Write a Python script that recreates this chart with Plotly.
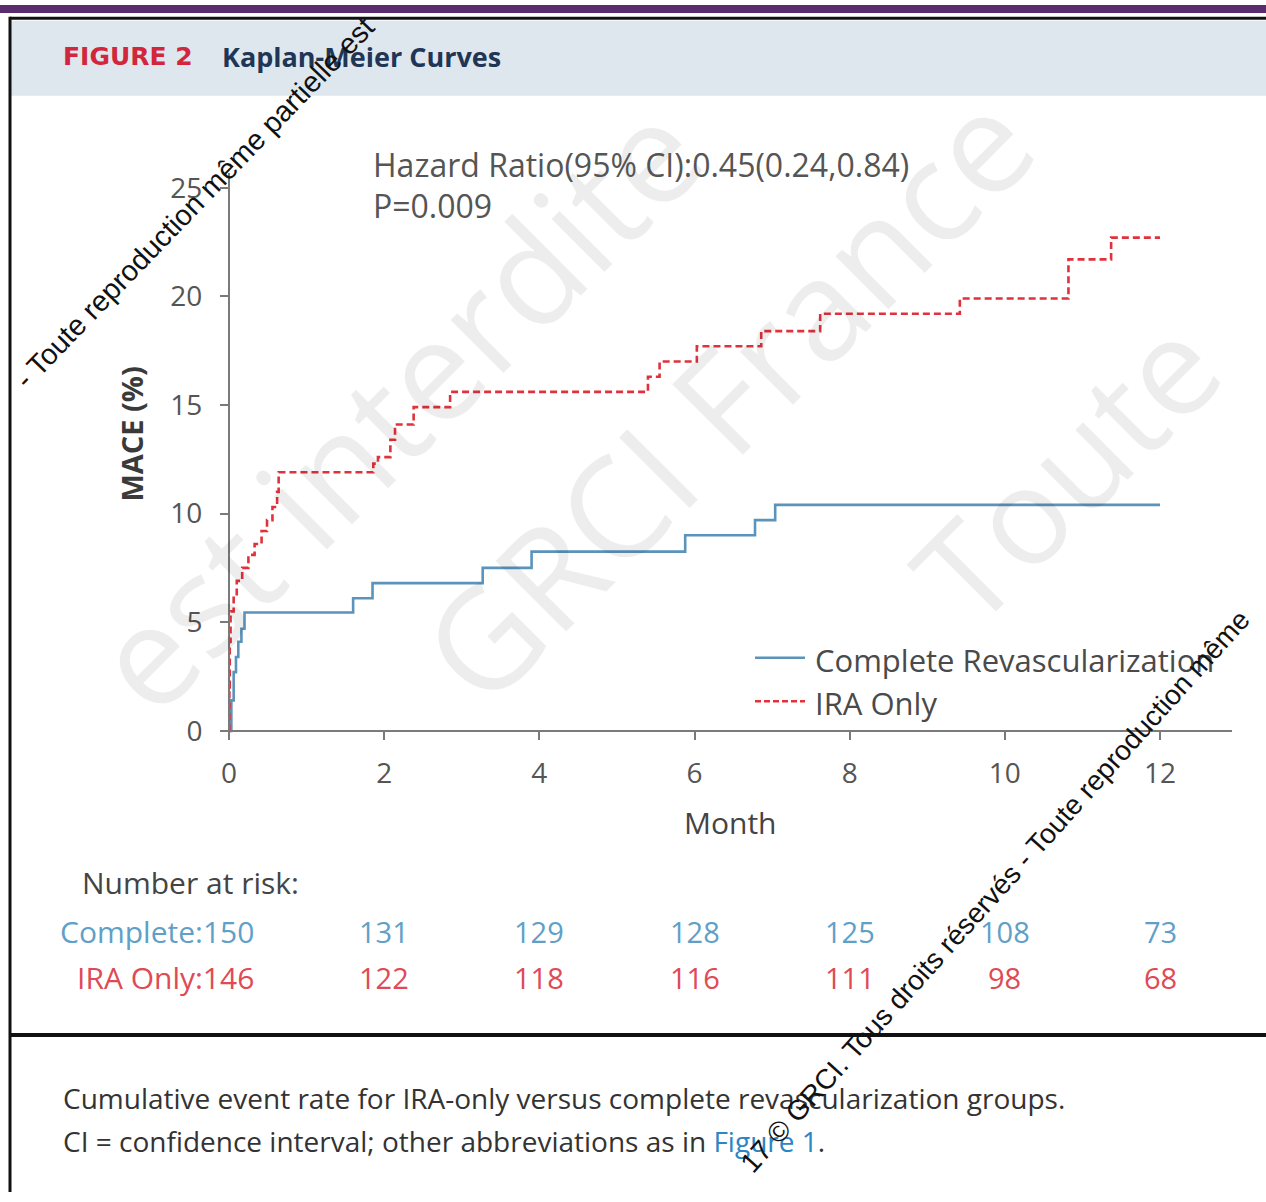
import plotly.graph_objects as go

W, H = 1266, 1202

# Kaplan-Meier step data (month, cumulative MACE %)
complete_month = [0, 0.03, 0.06, 0.09, 0.12, 0.16, 0.2, 1.6, 1.85, 3.27, 3.9, 5.88, 6.78, 7.04, 12.0]
complete_mace = [0, 1.4, 2.7, 3.4, 4.1, 4.7, 5.45, 6.1, 6.8, 7.5, 8.25, 9.0, 9.7, 10.4, 10.4]

ira_month = [0, 0.005, 0.01, 0.02, 0.06, 0.1, 0.17, 0.25, 0.33, 0.42, 0.49, 0.56, 0.62, 0.64,
             1.86, 1.92, 2.08, 2.14, 2.38, 2.85, 5.4, 5.55, 6.03, 6.86, 7.62, 9.42, 10.82, 11.37, 12.0]
ira_mace = [0, 2.0, 4.1, 5.5, 6.2, 6.9, 7.5, 8.1, 8.6, 9.2, 9.7, 10.3, 11.0, 11.9,
            12.3, 12.6, 13.4, 14.1, 14.9, 15.6, 16.3, 17.0, 17.7, 18.4, 19.2, 19.9, 21.7, 22.7, 22.7]

# Number at risk table
risk_months = [2, 4, 6, 8, 10, 12]
risk_complete = [131, 129, 128, 125, 108, 73]
risk_ira = [122, 118, 116, 111, 98, 68]
risk_start_complete = 150
risk_start_ira = 146

x_ticks = [0, 2, 4, 6, 8, 10, 12]
y_ticks = [0, 5, 10, 15, 20, 25]

BLUE = "#5b93bb"
BLUE_TXT = "#5fa0c8"
RED = "#e0323d"
RED_TXT = "#e04a55"
GREY = "#555555"
FONT = "Open Sans"


def px(x):
    return x / W


def py(y):
    return 1 - y / H


fig = go.Figure()

fig.add_trace(go.Scatter(
    x=complete_month, y=complete_mace, mode="lines", line_shape="hv",
    line=dict(color=BLUE, width=2.6), name="Complete Revascularization",
    showlegend=False, cliponaxis=False))
fig.add_trace(go.Scatter(
    x=ira_month, y=ira_mace, mode="lines", line_shape="hv",
    line=dict(color=RED, width=2.6, dash="7px,4px"), name="IRA Only",
    showlegend=False, cliponaxis=False))

# axis geometry in pixels
x0_px, x12_px = 229, 1160
mpp = 12 / (x12_px - x0_px)          # months per pixel
y0_px, ypp = 735, 5 / 110            # % per pixel
xl, xr = 220, 1232
yt, yb = 170, 743

fig.update_xaxes(
    domain=[px(xl), px(xr)],
    range=[(xl - x0_px) * mpp, (xr - x0_px) * mpp],
    anchor="free", position=py(y0_px),
    showline=True, linecolor="#7a7a7a", linewidth=2,
    ticks="outside", ticklen=8, tickwidth=1.6, tickcolor="#7a7a7a",
    tickvals=x_ticks, ticklabelstandoff=10,
    tickfont=dict(family=FONT, size=28, color=GREY),
    showgrid=False, zeroline=False, fixedrange=True,
)
fig.update_yaxes(
    domain=[py(yb), py(yt)],
    range=[(y0_px - yb) * ypp, (y0_px - yt) * ypp],
    anchor="free", position=px(x0_px),
    showline=True, linecolor="#7a7a7a", linewidth=2,
    ticks="outside", ticklen=8, tickwidth=1.6, tickcolor="#7a7a7a",
    tickvals=y_ticks, ticklabelstandoff=12,
    tickfont=dict(family=FONT, size=28, color=GREY),
    showgrid=False, zeroline=False, fixedrange=True,
)

shapes = []
annotations = []


def label(text, x, y, size, color, anchor="left", angle=0, family=FONT, xref="paper"):
    annotations.append(dict(
        text=text, x=x if xref != "paper" else px(x), y=py(y), xref=xref, yref="paper",
        xanchor=anchor, yanchor="middle", textangle=angle, showarrow=False,
        font=dict(family=family, size=size, color=color)))


# faint diagonal watermark lettering in the background
label("est interdite", 395, 405, 140, "rgba(0,0,0,0.07)", anchor="center", angle=-45)
label("GRCI France", 725, 395, 140, "rgba(0,0,0,0.07)", anchor="center", angle=-45)
label("Toute", 1065, 470, 135, "rgba(0,0,0,0.07)", anchor="center", angle=-45)

# page frame: purple top strip, black borders, header band
shapes += [
    dict(type="rect", xref="paper", yref="paper", x0=0, x1=1, y0=py(8), y1=1,
         fillcolor="#5a2c6e", line_width=0, layer="below"),
    dict(type="rect", xref="paper", yref="paper", x0=px(11), x1=1, y0=py(92), y1=py(16),
         fillcolor="#dfe7ee", line_width=0, layer="below"),
    dict(type="line", xref="paper", yref="paper", x0=px(10), x1=1, y0=py(13.5), y1=py(13.5),
         line=dict(color="#111111", width=3)),
    dict(type="line", xref="paper", yref="paper", x0=px(10), x1=px(10), y0=0, y1=py(12),
         line=dict(color="#111111", width=3)),
    dict(type="line", xref="paper", yref="paper", x0=px(10), x1=1, y0=py(1043), y1=py(1043),
         line=dict(color="#111111", width=4)),
]

# header
label("<b>FIGURE 2</b>", 61, 52, 25, "#d2263c", family="DejaVu Sans")
label("<b>Kaplan-Meier Curves</b>", 220, 52, 27, "#1f3656")

# statistics text
label("Hazard Ratio(95% CI):0.45(0.24,0.84)", 371, 162, 32, GREY)
label("P=0.009", 371, 203, 32, GREY)

# axis titles
label("Month", 731, 828, 30, "#444444", anchor="center")
label("<b>MACE (%)</b>", 132, 435, 29, "#3a3a3a", anchor="center", angle=-90)

# legend
shapes += [
    dict(type="line", xref="paper", yref="paper", x0=px(755), x1=px(805), y0=py(661), y1=py(661),
         line=dict(color=BLUE, width=2.4)),
    dict(type="line", xref="paper", yref="paper", x0=px(755), x1=px(805), y0=py(705), y1=py(705),
         line=dict(color=RED, width=2.4, dash="6px,3px")),
]
label("Complete Revascularization", 813, 663, 31, "#4a4a4a")
label("IRA Only", 813, 707, 31, "#4a4a4a")

# number at risk table
label("Number at risk:", 301, 889, 30, "#444444", anchor="right")
label(f"Complete:{risk_start_complete}", 256, 938, 30, BLUE_TXT, anchor="right")
label(f"IRA Only:{risk_start_ira}", 256, 985, 30, RED_TXT, anchor="right")
for m, c, r in zip(risk_months, risk_complete, risk_ira):
    label(str(c), m, 938, 29, BLUE_TXT, anchor="center", xref="x")
    label(str(r), m, 985, 29, RED_TXT, anchor="center", xref="x")

# caption
label("Cumulative event rate for IRA-only versus complete revascularization groups.",
      61, 1107, 28, "#333333")
label("CI = confidence interval; other abbreviations as in "
      "<span style='color:#2a86c4'>Figure 1</span>.", 61, 1150, 28, "#333333")

# copyright overlays
label("- Toute reproduction même partielle est", 194, 200, 29, "#111111",
      anchor="center", angle=-46, family="Liberation Sans")
label("17 © GRCI. Tous droits réservés - Toute reproduction même", 995, 898, 28,
      "#111111", anchor="center", angle=-48, family="Liberation Sans")

fig.update_layout(
    width=W, height=H, margin=dict(l=0, r=0, t=0, b=0),
    paper_bgcolor="white", plot_bgcolor="rgba(0,0,0,0)",
    shapes=shapes, annotations=annotations, showlegend=False,
)

fig.write_html("out.html", config={"displayModeBar": False})
